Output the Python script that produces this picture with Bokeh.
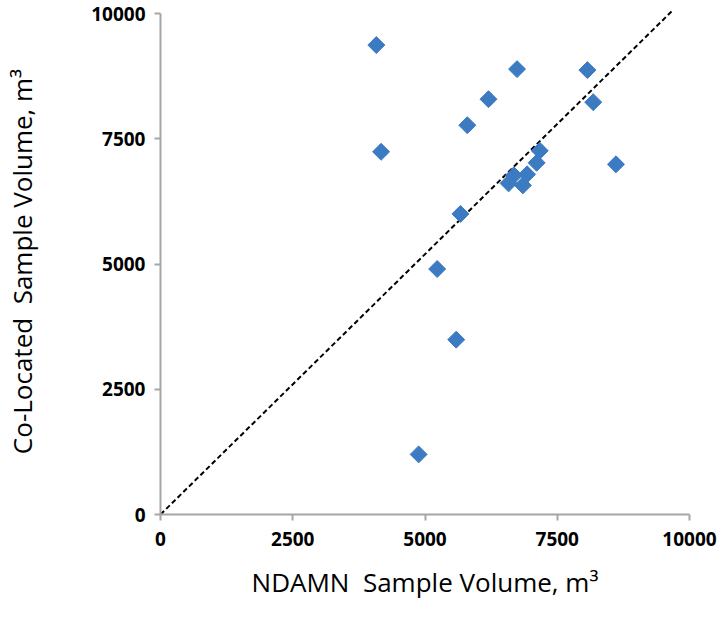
from bokeh.plotting import figure
from bokeh.embed import file_html
from bokeh.resources import INLINE
from bokeh.models import Range1d, FixedTicker
import numpy as np

ndamn = [4080, 6740, 8070, 6200, 8180, 5800, 4170, 7170, 7110, 8610, 6930, 6680, 6580, 6850, 5670, 5230, 5590, 4880]
colocated = [9370, 8890, 8870, 8290, 8230, 7770, 7240, 7260, 7020, 6990, 6790, 6770, 6610, 6570, 6000, 4900, 3490, 1200]
ref_x = [0, 9680]
ref_y = [0, 10060]
ticks = [0, 2500, 5000, 7500, 10000]

p = figure(width=719, height=618, output_backend="svg", toolbar_location=None,
           x_range=Range1d(0, 10000), y_range=Range1d(0, 10100),
           min_border_left=160, min_border_top=8, min_border_right=30, min_border_bottom=104)
p.outline_line_color = None
p.grid.visible = False
p.background_fill_color = "white"

p.line(ref_x, ref_y, line_color="black", line_width=2, line_dash="5 3")
p.scatter(ndamn, colocated, marker="square", size=12, angle=np.pi/4,
          fill_color="#3C7AC2", line_color="#3C7AC2")

for ax in (p.xaxis[0], p.yaxis[0]):
    ax.ticker = FixedTicker(ticks=ticks)
    ax.bounds = (0, 10000)
    ax.axis_line_color = "#a6a6a6"
    ax.axis_line_width = 2
    ax.major_tick_line_color = "#a6a6a6"
    ax.major_tick_line_width = 2
    ax.major_tick_out = 6
    ax.major_tick_in = 0
    ax.minor_tick_line_color = None
    ax.major_label_text_font = "Open Sans"
    ax.major_label_text_font_style = "bold"
    ax.major_label_text_font_size = "19px"
    ax.major_label_text_color = "black"
    ax.axis_label_text_font = "Open Sans"
    ax.axis_label_text_font_style = "normal"
    ax.axis_label_text_font_size = "26px"
    ax.axis_label_text_color = "black"

p.xaxis.axis_label = "NDAMN\u00a0 Sample Volume, m³"
p.yaxis.axis_label = "Co-Located\u00a0 Sample Volume, m³"
p.xaxis.major_label_standoff = 11
p.xaxis.axis_label_standoff = 15
p.yaxis.major_label_standoff = 9
p.yaxis.axis_label_standoff = 48

open("out.html", "w").write(file_html(p, INLINE))
